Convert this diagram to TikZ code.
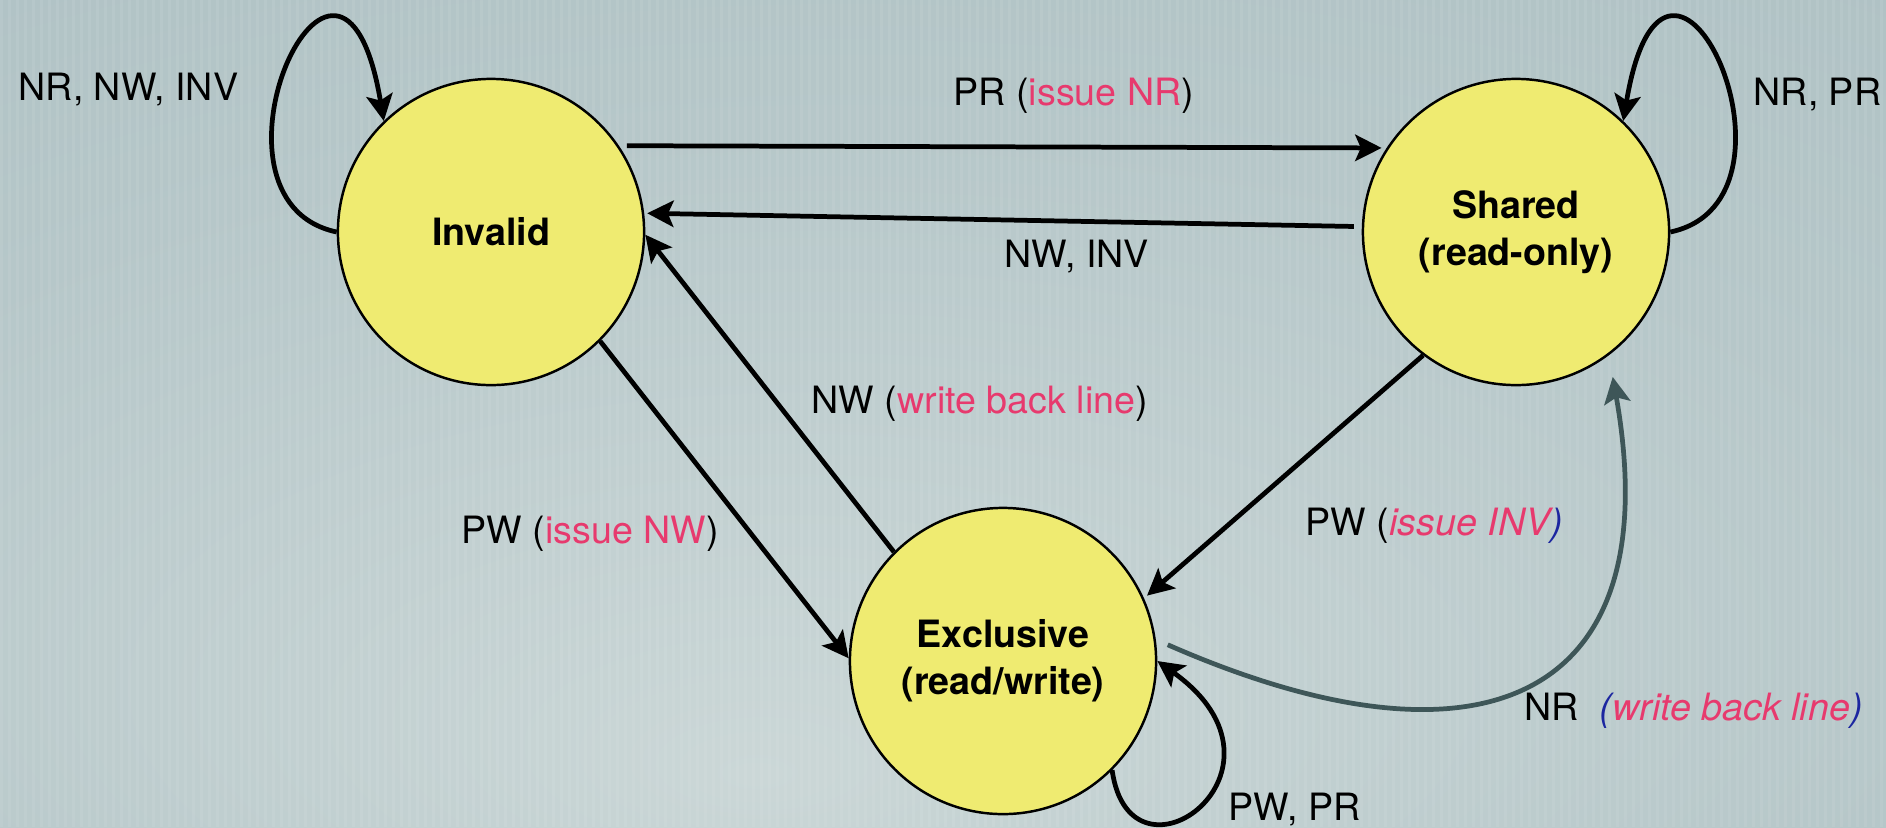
\documentclass[tikz,border=0pt]{standalone}
\usepackage{fontspec}
\setmainfont{TeX Gyre Heros}
\usetikzlibrary{arrows.meta,calc}

\definecolor{stateyellow}{RGB}{239,235,113}
\definecolor{notepink}{RGB}{231,58,110}
\definecolor{noteblue}{RGB}{28,38,160}
\definecolor{slateline}{RGB}{62,86,88}
\definecolor{bgin}{RGB}{203,215,215}
\definecolor{bgmid}{RGB}{182,199,201}
\definecolor{bgout}{RGB}{164,184,188}
\pgfdeclareradialshading{backdrop}{\pgfpoint{-5bp}{-22bp}}%
  {color(0bp)=(bgin); color(30bp)=(bgmid); color(72bp)=(bgout)}

\begin{document}
\begin{tikzpicture}[x=0.01cm, y=-0.01cm,
  state/.style={circle, draw=black, line width=0.7pt, fill=stateyellow,
    minimum size=3.06cm, inner sep=0pt, align=center,
    font=\fontsize{10.7}{13.4}\selectfont\bfseries},
  trans/.style={line width=1.35pt,
    -{Stealth[length=7.5pt,width=7.5pt,inset=1.6pt]}},
  lbl/.style={anchor=base west, inner sep=0pt,
    font=\fontsize{10.7}{13}\selectfont},
]
% backdrop: soft vignette with faint vertical stripes
\useasboundingbox (0,0) rectangle (1886,827);
\shade[shading=backdrop] (0,0) rectangle (1886,827);
\foreach \sx in {0,8,...,1880}
  \fill[white, opacity=0.07] (\sx,0) rectangle ++(3,827);

% states
\node[state] (inv) at (491,232) {Invalid};
\node[state] (shd) at (1516,232) {Shared\\(read-only)};
\node[state] (exc) at (1003,661) {Exclusive\\(read/write)};

% transitions between states
\draw[trans, shorten <=0.08cm, shorten >=0.05cm] (inv.34) -- (shd.147);
\draw[trans, shorten <=0.08cm, shorten >=0.03cm] (shd.178) -- (inv.7);
\draw[trans] (exc.135) -- (inv.-1);
\draw[trans] (inv.-45) -- (exc.179);
\draw[trans, shorten >=0.04cm] (shd.-127) -- (exc.24);
\draw[trans, color=slateline, shorten <=0.13cm, shorten >=0.22cm]
  (exc.8) .. controls ($(exc.center)+(480,122)$) and ($(shd.center)+(154,468)$) .. (shd.-53);

% self loops
\draw[trans] (inv.180) .. controls ($(inv.center)+(-306,-32)$) and ($(inv.center)+(-151,-372)$) .. (inv.134);
\draw[trans] (shd.0) .. controls ($(shd.center)+(306,-32)$) and ($(shd.center)+(151,-372)$) .. (shd.46);
\draw[trans] (exc.-45) .. controls ($(exc.center)+(127,239)$) and ($(exc.center)+(307,109)$) .. (exc.0);

% transition labels
\node[lbl] (linvloop) at (18,100) {NR, NW, INV};
\node[lbl] (lpr) at (953,105) {PR (\textcolor{notepink}{issue NR})};
\node[lbl] (lnwinv) at (1004,267) {NW, INV};
\node[lbl] (lshdloop) at (1753,105) {NR, PR};
\node[lbl] (lnwwb) at (811,413) {NW (\textcolor{notepink}{write back line})};
\node[lbl] (lpwnw) at (461,543) {PW (\textcolor{notepink}{issue NW})};
\node[lbl] (lpwinv) at (1305,535) {PW (\textcolor{notepink}{\itshape issue INV}\textcolor{noteblue}{\itshape )}};
\node[lbl] (lnrwb) at (1524,720) {NR\ \ \textcolor{noteblue}{\itshape (}\textcolor{notepink}{\itshape write back line}\textcolor{noteblue}{\itshape )}};
\node[lbl] (lexcloop) at (1228,820) {PW, PR};
\end{tikzpicture}
\end{document}
